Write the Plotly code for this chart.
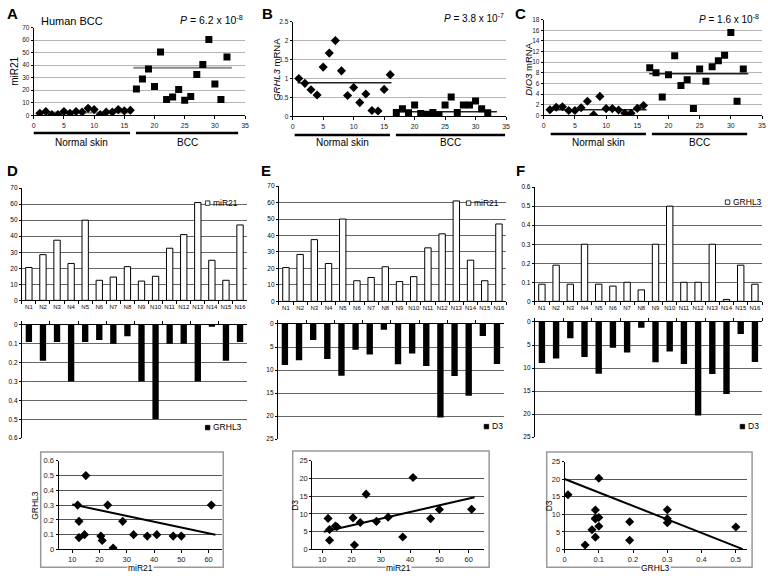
import plotly.graph_objects as go

W, H = 768, 581

# ---------------- data ----------------
sample_normal = [1, 2, 3, 4, 5, 6, 7, 8, 9, 10, 11, 12, 13, 14, 15, 16]
sample_bcc = [17, 18, 19, 20, 21, 22, 23, 24, 25, 26, 27, 28, 29, 30, 31, 32]

a_normal = [1.5, 3, 0.5, 0.5, 3, 1.5, 3, 2.5, 5.5, 4.5, 0.5, 2.5, 2.5, 4.5, 3.5, 4]
a_bcc = [21, 29, 37, 23, 50.5, 12.5, 14.5, 20.5, 12, 15, 32.5, 40.5, 60.5, 25, 12.5, 46.5]
a_mean_x = [[1, 16.3], [16.5, 32.8]]
a_mean_y = [2.2, 38]

b_normal = [1.0, 0.87, 0.7, 0.56, 1.3, 1.67, 2.0, 1.2, 0.55, 0.76, 0.36, 0.59, 0.15, 0.14, 0.71, 1.1]
b_bcc = [0.1, 0.2, 0.09, 0.3, 0.07, 0.05, 0.1, 0.03, 0.3, 0.51, 0.1, 0.3, 0.3, 0.4, 0.2, 0.09]
b_mean_x = [[0.8, 16.2], [16.8, 33.5]]
b_mean_y = [0.885, 0.12]

c_normal = [1.05, 1.5, 1.6, 0.9, 0.9, 1.4, 2.65, 0.1, 3.55, 1.25, 1.25, 1.0, 0.37, 0.37, 1.3, 1.85]
c_bcc = [8.95, 8.0, 3.45, 7.65, 11.2, 5.6, 6.7, 1.25, 8.7, 6.4, 9.15, 10.25, 11.3, 15.6, 2.65, 8.7]
c_mean_x = [[0.5, 16.5], [16.9, 32.8]]
c_mean_y = [1.05, 7.8]

categories = ["N1", "N2", "N3", "N4", "N5", "N6", "N7", "N8",
              "N9", "N10", "N11", "N12", "N13", "N14", "N15", "N16"]
mir21 = [20.5, 28.5, 37.5, 23, 50, 12.5, 14.5, 21, 12, 15, 32.5, 41, 61, 25, 12.5, 47]
grhl3 = [0.09, 0.19, 0.09, 0.3, 0.09, 0.08, 0.1, 0.06, 0.3, 0.5, 0.1, 0.1, 0.3, 0.01, 0.19, 0.09]
d3 = [8.9, 7.9, 3.5, 7.6, 11.25, 5.6, 6.6, 1.25, 8.75, 6.4, 9.1, 20.3, 11.3, 15.6, 2.6, 8.7]

trend_d_x, trend_d_y = [10, 62.5], [0.305, 0.1]
trend_e_x, trend_e_y = [10.5, 62], [5.0, 14.7]
trend_f_x, trend_f_y = [0, 0.52], [20.1, 0.1]

# ---------------- helpers ----------------
def px(x):
    return x / W

def py(y):
    return 1 - y / H

def dom_x(a, b):
    return [a / W, b / W]

def dom_y(top, bottom):
    return [1 - bottom / H, 1 - top / H]

FONT = "Liberation Sans, Arial, sans-serif"

def axis(domain, anchor, **kw):
    d = dict(domain=domain, anchor=anchor, showline=True, linecolor="black", linewidth=1,
             ticks="outside", ticklen=3, tickcolor="black", tickwidth=1,
             zeroline=False, showgrid=False, mirror=False,
             tickfont=dict(size=7, color="#222", family=FONT))
    d.update(kw)
    return d

fig = go.Figure()
layout = {}
shapes = []
annos = []

def text(x, y, s, size=9, xanchor="center", yanchor="middle", bold=False, angle=0, bg=None, color="black"):
    a = dict(x=px(x), y=py(y), xref="paper", yref="paper", text=("<b>%s</b>" % s) if bold else s,
             showarrow=False, xanchor=xanchor, yanchor=yanchor, textangle=angle,
             font=dict(size=size, color=color, family=FONT))
    if bg:
        a["bgcolor"] = bg
        a["borderpad"] = 0
    annos.append(a)

# ---------------- top row: A, B, C ----------------
top_panels = [
    (1, (32, 245), (24, 113), [0, 70], 10, a_normal, a_bcc, a_mean_x, a_mean_y, "#888", 2),
    (2, (293, 508), (18, 114), [0, 2.5], 0.5, b_normal, b_bcc, b_mean_x, b_mean_y, "#222", 1.5),
    (3, (546, 766), (16, 113), [0, 18], 2, c_normal, c_bcc, c_mean_x, c_mean_y, "#222", 1.5),
]
for n, xd, yd, yr, dt, yn, yb, mx, my, mcol, mw in top_panels:
    xa, ya = "x%d" % n, "y%d" % n
    sfx = "" if n == 1 else str(n)
    layout["xaxis" + sfx] = axis(dom_x(*xd), ya, range=[0, 35], dtick=5, tick0=0)
    layout["yaxis" + sfx] = axis(dom_y(*yd), xa, range=yr, dtick=dt, tick0=0, showgrid=True,
                                 gridcolor="#b5b5b5", gridwidth=1, ticklen=2,
                                 tickfont=dict(size=6.5, color="#222", family=FONT))
    for k in range(2):
        fig.add_trace(go.Scatter(x=mx[k], y=[my[k], my[k]], mode="lines",
                                 line=dict(color=mcol, width=mw), xaxis=xa, yaxis=ya))
    fig.add_trace(go.Scatter(x=sample_normal, y=yn, mode="markers",
                             marker=dict(symbol="diamond", size=7, color="black"), xaxis=xa, yaxis=ya))
    fig.add_trace(go.Scatter(x=sample_bcc, y=yb, mode="markers",
                             marker=dict(symbol="square", size=7, color="black"), xaxis=xa, yaxis=ya))

# underlines and group labels
for (x0, x1, x2, x3, yline) in [(32, 129, 135, 238, 131), (295, 391, 397, 507, 133), (553, 649, 655, 751, 132)]:
    shapes.append(dict(type="line", xref="paper", yref="paper", x0=px(x0), x1=px(x1), y0=py(yline), y1=py(yline),
                       line=dict(color="black", width=2.5)))
    shapes.append(dict(type="line", xref="paper", yref="paper", x0=px(x2), x1=px(x3), y0=py(yline), y1=py(yline),
                       line=dict(color="black", width=2.5)))
    text((x0 + x1) / 2, 141, "Normal skin", size=10)
    text((x2 + x3) / 2, 141, "BCC", size=10)

text(3, 10, "A", size=15, xanchor="left", bold=True)
text(260, 10, "B", size=15, xanchor="left", bold=True)
text(515, 10, "C", size=15, xanchor="left", bold=True)
text(37, 17, "Human BCC", size=11, xanchor="left")
text(245, 16, "<i>P</i> = 6.2 x 10<sup>-8</sup>", size=10.5, xanchor="right")
text(508, 14, "<i>P</i> = 3.8 x 10<sup>-7</sup>", size=10, xanchor="right")
text(765, 15, "<i>P</i> = 1.6 x 10<sup>-8</sup>", size=10, xanchor="right")
text(13, 68, "miR21", size=10, angle=-90)
text(277, 66, "<i>GRHL3</i> mRNA", size=9.5, angle=-90)
text(531, 66, "<i>DIO3</i> mRNA", size=9.5, angle=-90)

# ---------------- bar panels D, E, F ----------------
bar_panels = [
    (4, (20, 247), (187, 301), mir21, [0, 70], 10, "miR21", (205, 202),
     5, (20, 247), (326, 441), grhl3, [0.6, 0], 0.1, "GRHL3", (205, 430), "D", 3),
    (7, (279, 508), (185, 302), mir21, [0, 70], 10, "miR21", (468, 202),
     8, (278, 506), (325, 442), d3, [25, 0], 5, "D3", (486, 429), "E", 259),
    (10, (537, 766), (186, 302), grhl3, [0, 0.6], 0.1, "GRHL3", (729, 201),
     11, (537, 766), (323, 440), d3, [25, 0], 5, "D3", (744, 429), "F", 516),
]
for (nt, txd, tyd, tdat, tr, tdt, tleg, tlpos, nb, bxd, byd, bdat, br, bdt, bleg, blpos, lab, labx) in bar_panels:
    xa, ya = "x%d" % nt, "y%d" % nt
    layout["xaxis%d" % nt] = axis(dom_x(*txd), ya, type="category", tickson="boundaries", ticklen=3,
                                  tickangle=0,
                                  tickfont=dict(size=6, color="black", family=FONT),
                                  categoryorder="array", categoryarray=categories)
    layout["yaxis%d" % nt] = axis(dom_y(*tyd), xa, range=tr, dtick=tdt, tick0=0, showgrid=True,
                                  gridcolor="#666", gridwidth=1, ticklen=2,
                                  tickfont=dict(size=6.5, color="black", family=FONT))
    fig.add_trace(go.Bar(x=categories, y=tdat, width=0.45, marker=dict(color="white", line=dict(color="black", width=1)),
                         xaxis=xa, yaxis=ya))
    xa, ya = "x%d" % nb, "y%d" % nb
    layout["xaxis%d" % nb] = axis(dom_x(*bxd), ya, type="category", tickson="boundaries", side="top",
                                  showticklabels=False, ticklen=3,
                                  categoryorder="array", categoryarray=categories)
    layout["yaxis%d" % nb] = axis(dom_y(*byd), xa, range=br, dtick=bdt, tick0=0, showgrid=True,
                                  gridcolor="#666", gridwidth=1, ticklen=2,
                                  tickfont=dict(size=6.5, color="black", family=FONT))
    fig.add_trace(go.Bar(x=categories, y=bdat, width=0.45, marker=dict(color="black", line=dict(color="black", width=0)),
                         xaxis=xa, yaxis=ya))
    lx, ly = tlpos
    shapes.append(dict(type="rect", xref="paper", yref="paper", x0=px(lx), x1=px(lx + 4.5), y0=py(ly + 2.5),
                       y1=py(ly - 2), line=dict(color="black", width=0.8), fillcolor="white"))
    text(lx + 6, ly, tleg, size=8.5, xanchor="left")
    lx, ly = blpos
    shapes.append(dict(type="rect", xref="paper", yref="paper", x0=px(lx), x1=px(lx + 4.5), y0=py(ly + 2.5),
                       y1=py(ly - 2), line=dict(color="black", width=0.8), fillcolor="black"))
    text(lx + 6, ly, bleg, size=8.5, xanchor="left")
    text(labx, 169, lab, size=15, xanchor="left", bold=True)

# ---------------- scatter panels ----------------
scatter_panels = [
    (6, (57, 222), (464, 554), mir21, grhl3, [5, 65], [10, 20, 30, 40, 50, 60], [0, 0.6], 0.1,
     trend_d_x, trend_d_y, (39, 223, 455, 572), "miR21", "GRHL3", 33),
    (9, (312.7, 486), (464, 554), mir21, d3, [6.6, 65.3], [10, 20, 30, 40, 50, 60], [0, 25], 5,
     trend_e_x, trend_e_y, (293, 491, 454, 572), "miR21", "D3", 295),
    (12, (567, 751), (465, 554), grhl3, d3, [0, 0.533], [0, 0.1, 0.2, 0.3, 0.4, 0.5], [0, 25], 5,
     trend_f_x, trend_f_y, (549, 756, 455, 572), "GRHL3", "D3", 551),
]
for (n, xd, yd, xs, ys, xr, xtv, yr, ydt, tx, ty, box, xt, yt, ytx) in scatter_panels:
    xa, ya = "x%d" % n, "y%d" % n
    layout["xaxis%d" % n] = axis(dom_x(*xd), ya, range=xr, tickvals=xtv,
                                 ticktext=[("%g" % v) for v in xtv],
                                 tickfont=dict(size=7.5, color="#222", family=FONT))
    layout["yaxis%d" % n] = axis(dom_y(*yd), xa, range=yr, dtick=ydt, tick0=0, showgrid=True,
                                 gridcolor="#555", gridwidth=1, ticklen=2,
                                 tickfont=dict(size=7.5, color="#222", family=FONT))
    fig.add_trace(go.Scatter(x=tx, y=ty, mode="lines", line=dict(color="black", width=2), xaxis=xa, yaxis=ya))
    fig.add_trace(go.Scatter(x=xs, y=ys, mode="markers", marker=dict(symbol="diamond", size=7, color="black"),
                             xaxis=xa, yaxis=ya))
    x0, x1, y0, y1 = box
    shapes.append(dict(type="rect", xref="paper", yref="paper", x0=px(x0), x1=px(x1), y0=py(y1), y1=py(y0),
                       line=dict(color="#999", width=1.5), fillcolor="rgba(0,0,0,0)", layer="below"))
    text((xd[0] + xd[1]) / 2, 573, xt, size=8.5, bg="white")
    text(ytx, (yd[0] + yd[1]) / 2, yt, size=8.5, angle=-90)

layout.update(dict(width=W, height=H, margin=dict(l=0, r=0, t=0, b=0), paper_bgcolor="white",
                   plot_bgcolor="rgba(0,0,0,0)", showlegend=False, shapes=shapes, annotations=annos,
                   font=dict(family=FONT), bargap=0.5, hovermode=False))
fig.update_layout(**layout)
fig.write_html("out.html", config={"displayModeBar": False, "staticPlot": True},
               post_script="document.body.style.margin='0px';document.body.style.overflow='hidden';")
